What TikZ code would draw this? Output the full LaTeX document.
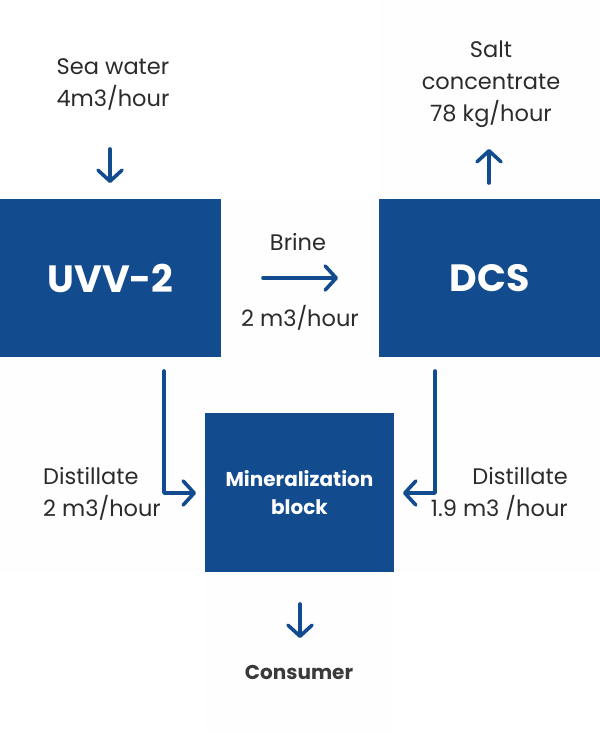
\documentclass[tikz,border=0pt]{standalone}
\usepackage{fontspec}
\setmainfont{Poppins}
\usetikzlibrary{arrows.meta}
\definecolor{boxblue}{HTML}{124C8F}
\definecolor{txt}{HTML}{2B2B2B}
\definecolor{constxt}{HTML}{3A3A3A}
\definecolor{panel}{HTML}{FEFEFE}
\tikzset{
  blockbox/.style={fill=boxblue, draw=none, text=white, inner sep=0pt, font=\bfseries\fontsize{38}{40}\selectfont},
  label/.style={text=txt, inner sep=0pt, align=center, font=\fontsize{22.5}{32}\selectfont},
  flow/.style={draw=boxblue, line width=3.6pt, line cap=round, line join=round,
    -{Straight Barb[length=11pt,width=24pt,round]}},
}
\begin{document}
\begin{tikzpicture}[x=1pt,y=-1pt]
\useasboundingbox (0,0) rectangle (600,732);
\fill[white] (0,0) rectangle (600,732);
% faint panels
\fill[panel] (379,0) rectangle (600,199);
\fill[panel] (221,199) rectangle (379,357);
\fill[panel] (0,357) rectangle (600,572);
\fill[panel] (205,572) rectangle (394,732);
% blocks
\node[blockbox, minimum width=221pt, minimum height=158pt] (uvv) at (110.5,278) {UVV-2};
\node[blockbox, minimum width=221pt, minimum height=158pt] (dcs) at (489.5,278) {DCS};
\node[blockbox, minimum width=189pt, minimum height=159pt, align=center,
      font=\bfseries\fontsize{20}{28}\selectfont] (mb) at (299.5,492.5) {Mineralization\\block};
% labels
\node[label] (sea) at (113,84) {Sea water\\4m3/hour};
\node[label] (salt) at (491,84) {Salt\\concentrate\\78 kg/hour};
\node[label] (brine) at (298,242) {Brine};
\node[label] (brineq) at (300,318) {2 m3/hour};
\node[label, align=left, anchor=west] (dl) at (43,494) {Distillate\\2 m3/hour};
\node[label, align=right, anchor=east] (dr) at (568,494) {Distillate\\1.9 m3 /hour};
\node[label, text=constxt, font=\bfseries\fontsize{20}{22}\selectfont] (cons) at (299,672) {Consumer};
% connector coordinates
\coordinate (seaA) at (110,149);
\coordinate (seaB) at (110,183);
\coordinate (saltA) at (489,183);
\coordinate (saltB) at (489,149);
\coordinate (brA) at (263,278);
\coordinate (brB) at (338,278);
\coordinate (dlA) at (164,371);
\coordinate (dlB) at (196,493);
\coordinate (drA) at (435,371);
\coordinate (drB) at (403,493);
\coordinate (coA) at (300,604);
\coordinate (coB) at (300,638);
% connectors
\draw[flow] (seaA) -- (seaB);
\draw[flow] (saltA) -- (saltB);
\draw[flow] (brA) -- (brB);
\draw[flow] (dlA) |- (dlB);
\draw[flow] (drA) |- (drB);
\draw[flow] (coA) -- (coB);
\end{tikzpicture}
\end{document}
